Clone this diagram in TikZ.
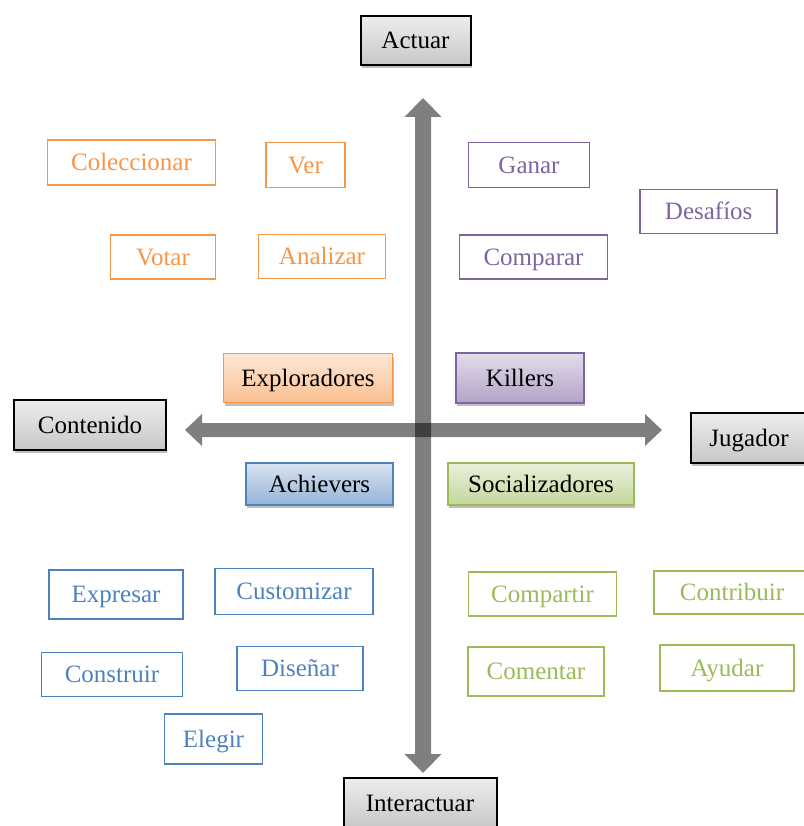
\documentclass[tikz,border=0pt]{standalone}
\usepackage{fontspec}
\setmainfont{Liberation Serif}
\usetikzlibrary{arrows.meta,shadows}
\definecolor{naranja}{HTML}{F79646}
\definecolor{morado}{HTML}{8064A2}
\definecolor{azul}{HTML}{4F81BD}
\definecolor{verde}{HTML}{9BBB59}
\tikzset{
  caja/.style={rectangle, inner sep=0pt, line width=1.5pt,
    font=\fontsize{25}{30}\selectfont, text height=16.5pt, text depth=0pt},
  sombra/.style={drop shadow={shadow xshift=1pt, shadow yshift=-3pt, opacity=0.25, fill=black}},
  ejebox/.style={caja, draw=black, line width=2pt, top color=black!7, bottom color=black!22, sombra},
  tipobox/.style={caja, draw=#1, top color=#1!22, bottom color=#1!60, sombra},
  accionbox/.style={caja, draw=#1, text=#1, fill=white},
  eje/.style={line width=16pt, black},
}

\begin{document}
\begin{tikzpicture}[x=1pt, y=-1pt]
	\useasboundingbox [fill=white] (0,0) rectangle (803,826);
	% ejes
	\coordinate (arriba) at (423,98);
	\coordinate (abajo) at (423,773);
	\coordinate (izq) at (185,430);
	\coordinate (der) at (662,430);
	\begin{scope}[transparency group, opacity=0.5]
	\draw [eje, {Triangle[width=36pt,length=19pt]}-{Triangle[width=36pt,length=19pt]}] (arriba) -- (abajo);
	\end{scope}
	\begin{scope}[transparency group, opacity=0.5]
	\draw [eje, line width=14pt, {Triangle[width=31pt,length=17pt]}-{Triangle[width=31pt,length=17pt]}] (izq) -- (der);
	\end{scope}
	% extremos de los ejes
	\node [ejebox, minimum width=110pt, minimum height=49pt] (actuar) at (415.5,40.5) {Actuar};
	\node [ejebox, minimum width=152pt, minimum height=50pt] (contenido) at (90,425) {Contenido};
	\node [ejebox, minimum width=116pt, minimum height=50pt] (jugador) at (749,438) {Jugador};
	\node [ejebox, minimum width=153pt, minimum height=50pt] (interactuar) at (420,803) {Interactuar};
	% tipos de jugador
	\node [tipobox=naranja, minimum width=169pt, minimum height=49pt] (exploradores) at (308,378) {Exploradores};
	\node [tipobox=morado, minimum width=128pt, minimum height=50pt] (killers) at (520,378) {Killers};
	\node [tipobox=azul, minimum width=147pt, minimum height=42pt] (achievers) at (319.5,484) {Achievers};
	\node [tipobox=verde, minimum width=186pt, minimum height=42pt] (socializadores) at (541,484) {Socializadores};
	% acciones
	\foreach \n/\t/\x/\y/\w/\h in {coleccionar/Coleccionar/131.5/162.7/168/45, ver/Ver/305.5/165/79/45,
		votar/Votar/163/257/105/44, analizar/Analizar/322/256.5/127/44}
	\node [accionbox=naranja, minimum width=\w pt, minimum height=\h pt] (\n) at (\x,\y) {\t};
	\foreach \n/\t/\x/\y/\w/\h in {ganar/Ganar/529/165/121/45, desafios/Desafíos/708.7/211.3/137/44,
		comparar/Comparar/533.5/257/148/44}
	\node [accionbox=morado, minimum width=\w pt, minimum height=\h pt] (\n) at (\x,\y) {\t};
	\foreach \n/\t/\x/\y/\w/\h in {expresar/Expresar/116/594.7/134/49, customizar/Customizar/294/591.3/158/46,
		construir/Construir/112/674.5/141/44, disenar/Diseñar/300/668.7/126/44, elegir/Elegir/213.5/739/98/50}
	\node [accionbox=azul, minimum width=\w pt, minimum height=\h pt] (\n) at (\x,\y) {\t};
	\foreach \n/\t/\x/\y/\w/\h in {compartir/Compartir/542.5/594/148/44, contribuir/Contribuir/732/592.3/156/43,
		comentar/Comentar/536/671.3/136/49, ayudar/Ayudar/727/668/134/46}
	\node [accionbox=verde, minimum width=\w pt, minimum height=\h pt] (\n) at (\x,\y) {\t};
\end{tikzpicture}
\end{document}
